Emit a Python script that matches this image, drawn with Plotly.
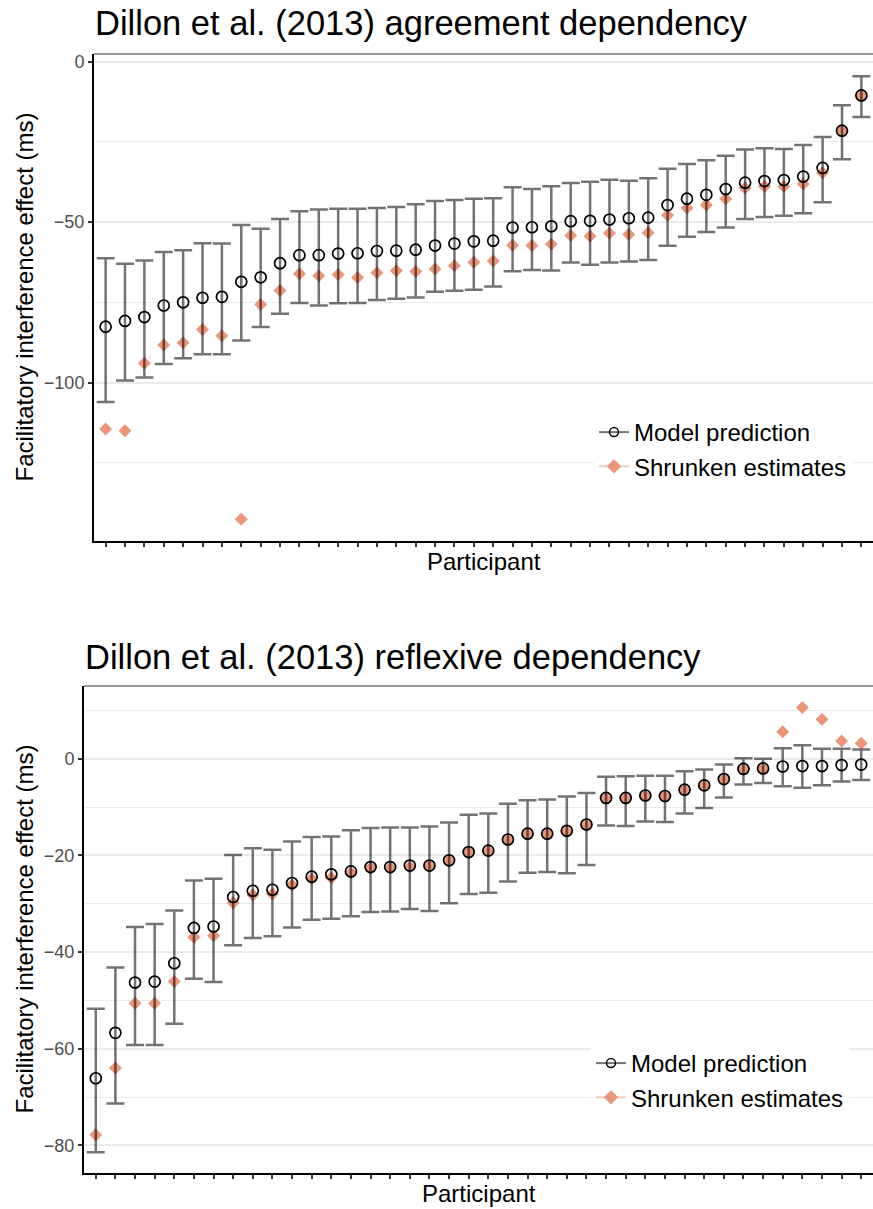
import plotly.graph_objects as go
from plotly.subplots import make_subplots

participants = list(range(1, 41))

# Dillon et al. (2013) agreement dependency
agr_model = [-82.6, -80.8, -79.6, -76.0, -75.0, -73.6, -73.3, -68.6, -67.2, -62.8,
             -60.3, -60.3, -59.8, -59.7, -59.0, -58.9, -58.6, -57.3, -56.7, -56.0,
             -55.8, -51.7, -51.6, -51.3, -49.7, -49.6, -49.2, -48.8, -48.6, -44.7,
             -42.7, -41.5, -39.7, -37.7, -37.2, -36.9, -35.8, -33.1, -21.5, -10.5]
agr_upper = [-61.3, -63.0, -62.0, -59.3, -58.8, -56.6, -56.7, -50.9, -52.1, -49.0,
             -46.6, -46.1, -45.8, -45.8, -45.6, -45.3, -44.4, -43.4, -43.1, -42.7,
             -42.6, -39.1, -39.7, -38.8, -37.8, -37.4, -36.8, -37.1, -36.3, -33.4,
             -31.9, -30.7, -29.3, -27.4, -27.0, -27.2, -26.0, -23.5, -13.6, -4.5]
agr_lower = [-106.1, -99.4, -98.4, -94.2, -92.4, -91.2, -91.2, -86.9, -82.7, -78.6,
             -75.2, -76.0, -75.3, -75.2, -74.3, -73.9, -73.5, -71.7, -71.4, -71.1,
             -70.1, -65.3, -64.9, -65.1, -62.6, -63.3, -62.6, -62.3, -61.8, -57.4,
             -54.6, -53.1, -51.7, -49.0, -48.4, -48.0, -47.2, -43.8, -30.4, -17.2]
agr_shrunk = [-114.5, -115.0, -94.0, -88.3, -87.6, -83.5, -85.4, -142.6, -75.7, -71.3,
              -66.1, -66.7, -66.3, -67.3, -65.8, -65.2, -65.4, -64.6, -63.6, -62.5,
              -62.1, -57.2, -57.3, -56.9, -54.2, -54.4, -53.5, -53.9, -53.3, -47.9,
              -45.6, -44.7, -42.7, -39.4, -38.9, -38.9, -38.1, -34.6, -21.5, -10.5]
agr_ticks = [0, -50, -100]
agr_ticktext = ["0", "\u221250", "\u2212100"]

# Dillon et al. (2013) reflexive dependency
refl_model = [-66.1, -56.7, -46.3, -46.1, -42.3, -35.0, -34.7, -28.6, -27.3, -27.1,
              -25.7, -24.4, -23.9, -23.3, -22.4, -22.4, -22.1, -22.1, -21.0, -19.3,
              -19.0, -16.7, -15.5, -15.5, -14.9, -13.6, -8.1, -8.1, -7.6, -7.7,
              -6.4, -5.5, -4.2, -2.1, -2.0, -1.6, -1.5, -1.5, -1.3, -1.2]
refl_upper = [-51.7, -43.2, -34.8, -34.2, -31.4, -25.2, -24.8, -19.9, -18.5, -18.8,
              -17.1, -16.2, -16.1, -14.8, -14.3, -14.2, -14.2, -14.0, -13.2, -11.6,
              -11.3, -9.3, -8.6, -8.4, -7.8, -7.1, -3.7, -3.6, -3.5, -3.5,
              -2.6, -2.2, -1.2, 0.1, 0.0, 2.2, 2.8, 2.1, 2.1, 1.9]
refl_lower = [-81.4, -71.3, -59.2, -59.2, -54.8, -45.5, -46.2, -38.6, -37.1, -36.7,
              -34.9, -33.3, -33.1, -32.6, -31.7, -31.6, -31.1, -31.5, -29.9, -28.0,
              -27.7, -25.4, -23.6, -23.4, -23.7, -22.0, -13.8, -13.9, -13.0, -13.1,
              -11.3, -10.2, -8.0, -5.3, -5.0, -5.7, -6.0, -5.5, -4.7, -4.4]
refl_shrunk = [-77.8, -64.0, -50.6, -50.6, -46.1, -36.9, -36.6, -29.8, -28.2, -28.0,
               -26.1, -24.8, -24.6, -23.6, -22.6, -22.6, -22.4, -22.2, -21.1, -19.4,
               -19.1, -16.8, -15.6, -15.6, -15.0, -13.7, -8.2, -8.2, -7.7, -7.8,
               -6.5, -5.6, -4.3, -2.2, -2.1, 5.6, 10.6, 8.2, 3.7, 3.2]
refl_ticks = [0, -20, -40, -60, -80]
refl_ticktext = ["0", "\u221220", "\u221240", "\u221260", "\u221280"]

W, H = 873, 1209
FONT = "Liberation Sans, Arial, Helvetica, sans-serif"
SALMON = "#E9967A"
ERR = "rgba(0,0,0,0.55)"

fig = make_subplots(rows=2, cols=1)


def add_panel(row, model, lower, upper, shrunk, legend):
    fig.add_trace(go.Scatter(x=participants, y=shrunk, mode="markers",
                             marker=dict(symbol="diamond", size=10, color=SALMON),
                             showlegend=False, hoverinfo="y"), row=row, col=1)
    fig.add_trace(go.Scatter(
        x=participants, y=model, mode="markers",
        marker=dict(symbol="circle-open", size=11, color="black", line=dict(width=1.7)),
        error_y=dict(type="data", symmetric=False,
                     array=[u - m for u, m in zip(upper, model)],
                     arrayminus=[m - l for m, l in zip(model, lower)],
                     color=ERR, thickness=2.5, width=9),
        showlegend=False), row=row, col=1)
    # legend keys
    fig.add_trace(go.Scatter(x=[None], y=[None], mode="lines+markers", name="Model prediction",
                             line=dict(color=ERR, width=2),
                             marker=dict(symbol="circle-open", size=9, color="black",
                                         line=dict(width=1.5)),
                             legend=legend), row=row, col=1)
    fig.add_trace(go.Scatter(x=[None], y=[None], mode="lines+markers", name="Shrunken estimates",
                             line=dict(color="rgba(233,150,122,0.5)", width=2),
                             marker=dict(symbol="diamond", size=11, color=SALMON),
                             legend=legend), row=row, col=1)


add_panel(1, agr_model, agr_lower, agr_upper, agr_shrunk, "legend")
add_panel(2, refl_model, refl_lower, refl_upper, refl_shrunk, "legend2")

xcommon = dict(range=[0.4, 40.6], tickvals=participants, showticklabels=False,
               ticks="outside", ticklen=4, tickwidth=1.5, tickcolor="#333333",
               showline=True, linecolor="black", linewidth=2, showgrid=False,
               zeroline=False, automargin=False)
ycommon = dict(showline=True, linecolor="black", linewidth=2, ticks="outside",
               ticklen=4, tickwidth=1.5, tickcolor="#333333",
               tickfont=dict(size=18, color="#4D4D4D", family=FONT),
               showgrid=True, gridcolor="#EBEBEB", gridwidth=1.6,
               zeroline=False, automargin=False)

fig.update_xaxes(**xcommon)
fig.update_yaxes(**ycommon)

fig.update_layout(
    xaxis=dict(domain=[94 / W, 1.0]),
    yaxis=dict(domain=[1 - 541 / H, 1 - 54 / H], range=[-149.4, 2.4],
               tickvals=agr_ticks, ticktext=agr_ticktext,
               minor=dict(tickvals=[-25, -75, -125], ticks="", showgrid=True,
                          gridcolor="#EBEBEB", gridwidth=1)),
    xaxis2=dict(domain=[84 / W, 1.0]),
    yaxis2=dict(domain=[1 - 1173 / H, 1 - 686 / H], range=[-85.7, 15.06],
                tickvals=refl_ticks, ticktext=refl_ticktext,
                minor=dict(tickvals=[10, -10, -30, -50, -70], ticks="", showgrid=True,
                           gridcolor="#EBEBEB", gridwidth=1)),
)

# thin top border of each panel
for xr, yr in [("x domain", "y domain"), ("x2 domain", "y2 domain")]:
    fig.add_shape(type="line", xref=xr, yref=yr, x0=0, x1=1, y0=1, y1=1,
                  line=dict(color="#333333", width=1.2))

annos = [
    dict(text="Dillon et al. (2013) agreement dependency", x=93 / W, y=1 - 23 / H,
         xanchor="left", yanchor="middle", font=dict(size=34.5, color="black")),
    dict(text="Dillon et al. (2013) reflexive dependency", x=83 / W, y=1 - 657 / H,
         xanchor="left", yanchor="middle", font=dict(size=34.5, color="black")),
    dict(text="Participant", x=(94 + W) / 2 / W, y=1 - 562 / H,
         xanchor="center", yanchor="middle", font=dict(size=24, color="black")),
    dict(text="Participant", x=(84 + W) / 2 / W, y=1 - 1193 / H,
         xanchor="center", yanchor="middle", font=dict(size=24, color="black")),
    dict(text="Facilitatory interference effect (ms)", x=24 / W, y=1 - 297.5 / H,
         textangle=-90, xanchor="center", yanchor="middle", font=dict(size=24, color="black")),
    dict(text="Facilitatory interference effect (ms)", x=24 / W, y=1 - 929.5 / H,
         textangle=-90, xanchor="center", yanchor="middle", font=dict(size=24, color="black")),
]
for a in annos:
    fig.add_annotation(xref="paper", yref="paper", showarrow=False, **a)

legend_style = dict(font=dict(size=24, color="black", family=FONT), bgcolor="white",
                    borderwidth=0, xanchor="left", yanchor="middle")
fig.update_layout(
    width=W, height=H,
    margin=dict(l=0, r=0, t=0, b=0),
    template="none",
    font=dict(family=FONT, color="black"),
    paper_bgcolor="white", plot_bgcolor="white",
    legend=dict(x=594 / W, y=1 - 449.5 / H, **legend_style),
    legend2=dict(x=591 / W, y=1 - 1080.5 / H, **legend_style),
)

# drop the page's default body margin so the figure sits at the window's corner
fig.write_html("out.html", config={"displayModeBar": False},
               post_script="document.body.style.margin='0';")
